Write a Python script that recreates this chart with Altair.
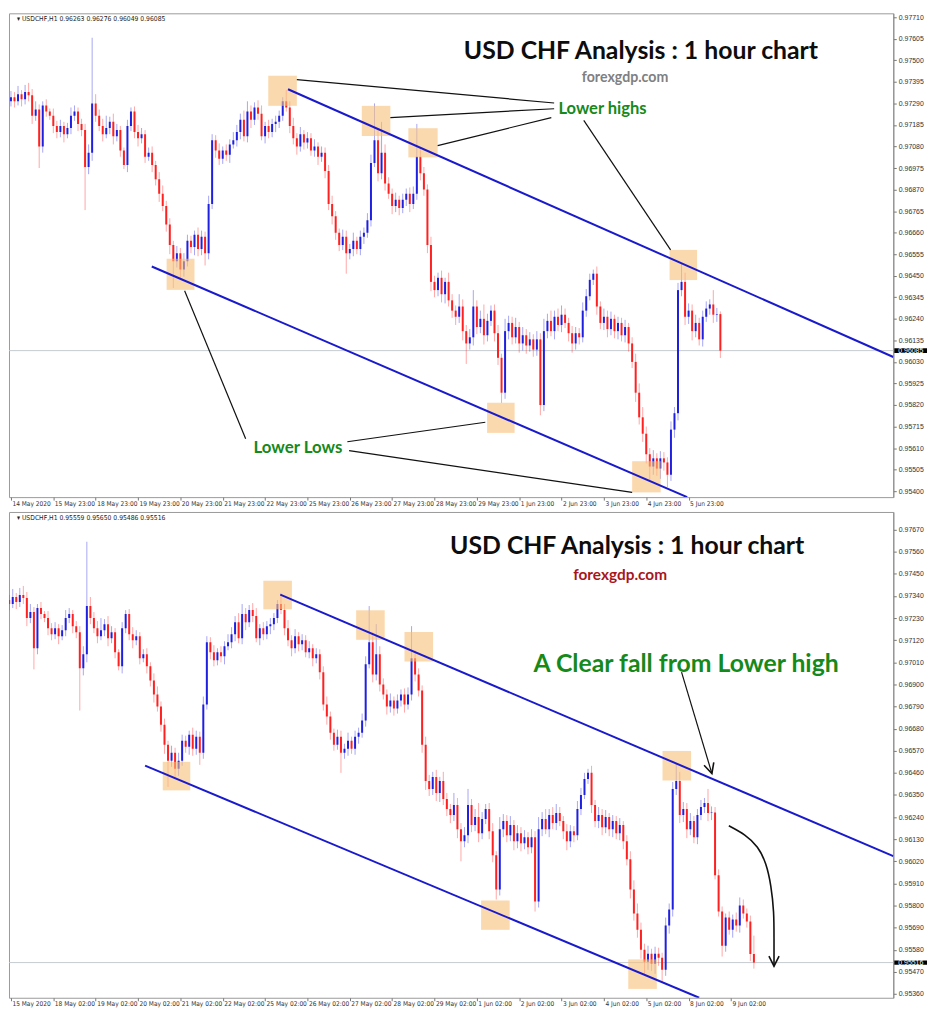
import altair as alt
import pandas as pd

# ---------------- data (prices in points: 1 point = 0.00001) ----------------
first_open = 97300
closes = [
    97320, 97300, 97335, 97310, 97345, 97330, 97230, 97260, 97080, 97280, 97250, 97230, 97180, 97150, 97180, 97140, 97170, 97230, 97250, 97190,
    97160, 96980, 97050, 97290, 97230, 97180, 97140, 97170, 97200, 97130, 97160, 97060, 96990, 97180, 97250, 97150, 97120, 97140, 97030, 97050,
    96990, 96920, 96850, 96790, 96700, 96600, 96520, 96560, 96480, 96520, 96620, 96590, 96650, 96580, 96640, 96560, 96800, 97110, 97060, 97020,
    97060, 97040, 97090, 97110, 97150, 97210, 97130, 97250, 97210, 97270, 97240, 97130, 97180, 97150, 97190, 97200, 97230, 97300, 97270, 97180,
    97120, 97080, 97140, 97100, 97120, 97060, 97080, 97030, 97050, 96960, 96800, 96740, 96660, 96600, 96640, 96560, 96580, 96620, 96580, 96640,
    96660, 96720, 97000, 97110, 96950, 97050, 96900, 96850, 96790, 96820, 96780, 96820, 96850, 96800, 96850, 97030, 96950, 96870, 96600, 96420,
    96380, 96440, 96360, 96420, 96330, 96280, 96250, 96300, 96180, 96120, 96150, 96300, 96200, 96240, 96160, 96230, 96280, 96170, 96050, 95880,
    96180, 96220, 96150, 96200, 96120, 96160, 96110, 96140, 96090, 96140, 95820, 96180, 96230, 96180, 96250, 96210, 96260, 96220, 96170, 96120,
    96170, 96150, 96280, 96350, 96430, 96460, 96300, 96220, 96250, 96190, 96240, 96180, 96220, 96160, 96200, 96120, 96030, 95880, 95760, 95680,
    95580, 95520, 95560, 95510, 95560, 95540, 95480, 95700, 95780, 96380, 96420, 96250, 96280, 96180, 96220, 96140, 96250, 96290, 96310, 96260, 96263,
]
wick_up = [
    30, 25, 40, 20, 35, 45, 30, 40, 25, 20, 30, 15, 35, 25, 30, 20, 25, 40, 30, 20,
    25, 30, 40, 320, 45, 30, 35, 60, 25, 40, 30, 20, 15, 30, 20, 25, 35, 30, 20, 25,
    30, 20, 35, 40, 25, 30, 20, 35, 25, 40, 30, 25, 20, 35, 30, 25, 40, 30, 25, 35,
    20, 30, 25, 40, 35, 30, 45, 50, 30, 25, 35, 40, 20, 30, 25, 30, 25, 20, 55, 30,
    40, 25, 35, 20, 30, 25, 35, 20, 30, 25, 30, 40, 25, 20, 35, 30, 25, 40, 20, 30,
    25, 35, 40, 180, 50, 150, 40, 30, 25, 35, 20, 30, 25, 30, 35, 160, 40, 30, 25, 40,
    30, 25, 35, 20, 45, 30, 25, 60, 35, 30, 40, 80, 30, 40, 70, 35, 25, 30, 40, 20,
    60, 35, 30, 45, 25, 40, 30, 35, 25, 40, 30, 60, 35, 50, 30, 40, 45, 30, 25, 35,
    30, 25, 40, 35, 30, 20, 35, 25, 40, 30, 35, 20, 30, 25, 35, 20, 30, 40, 45, 50,
    35, 30, 40, 25, 35, 30, 25, 40, 30, 35, 90, 45, 35, 30, 40, 25, 30, 35, 25, 70, 30,
]
wick_dn = [
    25, 30, 20, 35, 25, 30, 40, 25, 105, 30, 25, 20, 35, 30, 25, 40, 20, 30, 25, 35,
    30, 210, 35, 40, 30, 25, 35, 20, 30, 40, 25, 30, 20, 35, 25, 30, 40, 25, 30, 20,
    35, 30, 40, 25, 35, 45, 130, 30, 40, 35, 25, 30, 40, 35, 30, 60, 30, 25, 35, 30,
    25, 30, 40, 20, 30, 35, 25, 30, 40, 25, 30, 20, 35, 30, 25, 40, 30, 25, 20, 35,
    30, 40, 25, 35, 30, 25, 30, 40, 25, 35, 30, 40, 35, 30, 25, 100, 30, 35, 25, 30,
    35, 25, 30, 20, 40, 30, 35, 25, 40, 30, 35, 25, 30, 40, 25, 30, 35, 30, 40, 45,
    35, 30, 40, 45, 30, 35, 40, 30, 45, 100, 30, 40, 35, 30, 45, 30, 25, 40, 35, 50,
    30, 40, 35, 30, 45, 35, 40, 30, 35, 30, 50, 30, 35, 25, 40, 30, 35, 25, 40, 45,
    30, 35, 25, 30, 20, 25, 40, 30, 35, 40, 30, 35, 40, 30, 35, 40, 30, 45, 35, 40,
    45, 70, 40, 35, 50, 40, 60, 30, 40, 35, 30, 40, 35, 45, 30, 30, 35, 25, 30, 40, 35,
]
# last (partial) bar of the upper snapshot
top_tail_close = [96085]
top_tail_wu = [13]
top_tail_wd = [36]
# bars that follow in the lower snapshot
bot_tail_close = [95950, 95770, 95600, 95740, 95680, 95730, 95700, 95800, 95760, 95720, 95559, 95516]
bot_tail_wu = [27, 30, 25, 20, 30, 25, 35, 40, 30, 25, 30, 91]
bot_tail_wd = [20, 25, 54, 30, 25, 40, 30, 35, 25, 30, 35, 30]

top_last = 0.96085
bot_last = 0.95516

top_yticks = [0.97710, 0.97605, 0.97500, 0.97395, 0.97290, 0.97185, 0.97080, 0.96975, 0.96870, 0.96765,
              0.96660, 0.96555, 0.96450, 0.96345, 0.96240, 0.96135, 0.96030, 0.95925, 0.95820, 0.95715,
              0.95610, 0.95505, 0.95400]
bot_yticks = [0.97670, 0.97560, 0.97450, 0.97340, 0.97230, 0.97120, 0.97010, 0.96900, 0.96790, 0.96680,
              0.96570, 0.96460, 0.96350, 0.96240, 0.96130, 0.96020, 0.95910, 0.95800, 0.95690, 0.95580,
              0.95470, 0.95360]
top_xlabels = ["14 May 2020", "15 May 23:00", "18 May 23:00", "19 May 23:00", "20 May 23:00", "21 May 23:00",
               "22 May 23:00", "25 May 23:00", "26 May 23:00", "27 May 23:00", "28 May 23:00", "29 May 23:00",
               "1 Jun 23:00", "2 Jun 23:00", "3 Jun 23:00", "4 Jun 23:00", "5 Jun 23:00"]
top_xpos = [0, 12, 24, 36, 48, 60, 72, 84, 96, 108, 120, 132, 144, 156, 168, 180, 192]
bot_xlabels = ["15 May 2020", "18 May 02:00", "19 May 02:00", "20 May 02:00", "21 May 02:00", "22 May 02:00",
               "25 May 02:00", "26 May 02:00", "27 May 02:00", "28 May 02:00", "29 May 02:00", "1 Jun 02:00",
               "2 Jun 02:00", "3 Jun 02:00", "4 Jun 02:00", "5 Jun 02:00", "8 Jun 02:00", "9 Jun 02:00"]
bot_xpos = [1.5, 13.5, 25.5, 37.5, 49.5, 61.5, 73.5, 85.5, 97.5, 109.5, 121.5, 133.5, 145.5, 157.5, 169.5,
            181.5, 193.5, 205.5]

top_info = "\u25BE  USDCHF,H1  0.96263 0.96276 0.96049 0.96085"
bot_info = "\u25BE  USDCHF,H1  0.95559 0.95650 0.95486 0.95516"

# annotations (bar index, price)
top_boxes = [(72.9, 81.0, 0.97425, 0.97278), (99.4, 107.5, 0.97278, 0.97131), (112.6, 120.9, 0.97169, 0.97027),
             (186.6, 194.4, 0.96576, 0.96429), (44.1, 52.0, 0.96533, 0.96381), (134.9, 142.7, 0.95831, 0.95684),
             (176.0, 184.1, 0.95546, 0.95394)]
bot_boxes = [(73.0, 81.1, 0.97416, 0.97274), (99.3, 107.4, 0.97269, 0.97122), (113.0, 121.1, 0.97161, 0.97014),
             (186.1, 194.2, 0.96569, 0.96422), (44.5, 52.3, 0.96515, 0.96373), (134.7, 142.8, 0.95825, 0.95679),
             (176.4, 184.5, 0.95532, 0.95385)]
top_trend = [(78.5, 0.97359, 250.0, 0.96054), (39.9, 0.96495, 191.6, 0.95371)]
bot_trend = [(77.8, 0.97347, 251.5, 0.96046), (39.5, 0.96496, 196.5, 0.95341)]
top_pointers = [(81.0, 0.97406, 153.9, 0.97292), (107.5, 0.97221, 153.9, 0.97264), (120.9, 0.97084, 153.1, 0.97221),
                (162.3, 0.97207, 186.9, 0.96576), (49.2, 0.96377, 66.5, 0.95655), (95.3, 0.95641, 134.4, 0.95736),
                (95.8, 0.95598, 176.0, 0.95394)]
bot_pointers = [(191.5, 0.96961, 200.1, 0.96457)]
curve_k = [204.9, 209.6, 213.2, 215.5, 216.9, 217.7, 217.7, 217.7]
curve_p = [0.96197, 0.96153, 0.96094, 0.96011, 0.95899, 0.95767, 0.95639, 0.95498]
bot_heads = [(200.1, 0.96457, 343), (217.7, 0.95498, 0)]

top_texts = [("USD CHF Analysis : 1 hour chart", 178.5, 0.97506, 25, "#0d0d0d"),
             ("forexgdp.com", 174.0, 0.97392, 14.3, "#808080"),
             ("Lower highs", 167.6, 0.97240, 16.7, "#16891b"),
             ("Lower Lows", 81.3, 0.95584, 17, "#16891b")]
bot_texts = [("USD CHF Analysis : 1 hour chart", 176.1, 0.97548, 25, "#0d0d0d"),
             ("forexgdp.com", 174.1, 0.97420, 15.5, "#a8161c"),
             ("A Clear fall from Lower high", 192.8, 0.96961, 25, "#16891b")]

W = 892
H_TOP = 488
H_BOT = 490
BLUE = "#1f1fe0"
RED = "#ff2020"
AXFONT = "Liberation Sans Narrow, DejaVu Sans Condensed, Liberation Sans"


def candles(cl, wu, wd, o0, kmin):
    rows = []
    prev = o0
    for k, (c, u, d) in enumerate(zip(cl, wu, wd)):
        o = prev
        hi = max(o, c) + u
        lo = min(o, c) - d
        if k >= kmin:
            rows.append(dict(k=k, o=o / 1e5, c=c / 1e5, h=hi / 1e5, l=lo / 1e5,
                             d="up" if c >= o else "dn"))
        prev = c
    return pd.DataFrame(rows)


def panel(df, xdom, ydom, yticks, xpos, xlabels, H, last, boxes, trend, pointers, texts, info, info_pos,
          curve=None, heads=None):
    xs = alt.Scale(domain=xdom, nice=False, zero=False)
    ys = alt.Scale(domain=ydom, nice=False, zero=False)
    expr = ("[" + ",".join("'%s'" % s for s in xlabels) + "][indexof([" +
            ",".join(str(p) for p in xpos) + "], datum.value)]")
    xax = alt.Axis(values=xpos, labelExpr=expr, orient="bottom", title=None, grid=False, domain=False,
                   ticks=True, tickSize=3, tickColor="#777777", labelAlign="left", labelBaseline="top",
                   labelPadding=0, labelFontSize=6.6, labelFont=AXFONT, labelColor="#333333",
                   labelOffset=1, labelOverlap=False, labelFlush=False, labelBound=False)
    yax = alt.Axis(values=yticks, format=".5f", orient="right", title=None, grid=False, domain=True,
                   domainColor="#8a8a8a", tickSize=3, tickColor="#777777", labelPadding=2,
                   labelFontSize=7, labelFont="Liberation Sans", labelColor="#333333",
                   labelOverlap=False, labelFlush=False, labelBound=False)

    def X(f):
        return alt.X(f, type="quantitative", scale=xs, axis=xax)

    def Y(f):
        return alt.Y(f, type="quantitative", scale=ys, axis=yax)

    layers = []
    layers.append(alt.Chart(pd.DataFrame({"p": [last]})).mark_rule(color="#c5cad0", strokeWidth=1)
                  .encode(y=Y("p")))
    up = df[df.d == "up"]
    dn = df[df.d == "dn"]
    for part, col in ((up, BLUE), (dn, RED)):
        layers.append(alt.Chart(part).mark_rule(color=col, strokeWidth=1, opacity=0.4, clip=True)
                      .encode(x=X("k"), y=Y("l"), y2="h"))
    for part, col in ((up, BLUE), (dn, RED)):
        layers.append(alt.Chart(part).mark_rule(color=col, strokeWidth=2, clip=True)
                      .encode(x=X("k"), y=Y("o"), y2="c"))
    bdf = pd.DataFrame(boxes, columns=["x0", "x1", "y0", "y1"])
    layers.append(alt.Chart(bdf).mark_rect(color="#f9c07a", opacity=0.6)
                  .encode(x=X("x0"), x2="x1", y=Y("y0"), y2="y1"))
    tdf = pd.DataFrame(trend, columns=["x0", "y0", "x1", "y1"])
    layers.append(alt.Chart(tdf).mark_rule(color="#1a1acd", strokeWidth=2, clip=True)
                  .encode(x=X("x0"), x2="x1", y=Y("y0"), y2="y1"))
    pdf = pd.DataFrame(pointers, columns=["x0", "y0", "x1", "y1"])
    layers.append(alt.Chart(pdf).mark_rule(color="#111111", strokeWidth=1.2)
                  .encode(x=X("x0"), x2="x1", y=Y("y0"), y2="y1"))
    if curve is not None:
        cdf = pd.DataFrame({"k": curve[0], "p": curve[1], "i": list(range(len(curve[0])))})
        layers.append(alt.Chart(cdf).mark_line(color="#111111", strokeWidth=1.6, interpolate="basis")
                      .encode(x=X("k"), y=Y("p"), order="i:Q"))
    if heads is not None:
        hdf = pd.DataFrame(heads, columns=["k", "p", "a"])
        layers.append(alt.Chart(hdf).mark_point(shape="M -0.5 -1 L 0 0 L 0.5 -1", filled=False,
                                                stroke="#111111", strokeWidth=1.6, size=420, opacity=1)
                      .encode(x=X("k"), y=Y("p"), angle=alt.Angle("a:Q", scale=None)))
    for (t, k, p, fs, col) in texts:
        layers.append(alt.Chart(pd.DataFrame({"t": [t], "k": [k], "p": [p]}))
                      .mark_text(font="Lato", fontWeight="bold", fontSize=fs, color=col, align="center",
                                 baseline="alphabetic")
                      .encode(x=X("k"), y=Y("p"), text="t:N"))
    layers.append(alt.Chart(pd.DataFrame({"t": [info], "k": [info_pos[0]], "p": [info_pos[1]]}))
                  .mark_text(font=AXFONT, fontSize=6.8, color="#222222", align="left",
                             baseline="middle")
                  .encode(x=X("k"), y=Y("p"), text="t:N"))
    lab = pd.DataFrame({"p": [last], "lo": [last - 0.00011], "hi": [last + 0.00011], "t": ["%.5f" % last]})
    layers.append(alt.Chart(lab).mark_rect(color="#000000")
                  .encode(x=alt.value(W + 1), x2=alt.value(W + 34), y=Y("lo"), y2="hi"))
    layers.append(alt.Chart(lab).mark_text(color="#ffffff", fontSize=7, font="Liberation Sans",
                                           align="left", baseline="middle")
                  .encode(x=alt.value(W + 5), y=Y("p"), text="t:N"))
    return alt.layer(*layers).properties(width=W, height=H)


top_df = candles(closes + top_tail_close, wick_up + top_tail_wu, wick_dn + top_tail_wd, first_open, 0)
bot_df = candles(closes + bot_tail_close, wick_up + bot_tail_wu, wick_dn + bot_tail_wd, first_open, 1)

top = panel(top_df, [-0.56, 250.0], [0.95371, 0.97729], top_yticks, top_xpos, top_xlabels, H_TOP, top_last,
            top_boxes, top_trend, top_pointers, top_texts, top_info, (1.7, 0.97700))
bot = panel(bot_df, [0.94, 251.5], [0.95341, 0.97758], bot_yticks, bot_xpos, bot_xlabels, H_BOT, bot_last,
            bot_boxes, bot_trend, bot_pointers, bot_texts, bot_info, (3.2, 0.97729),
            curve=(curve_k, curve_p), heads=bot_heads)

chart = (alt.vconcat(top, bot, spacing=3)
         .properties(padding=0, background="white")
         .configure_view(stroke="#9a9a9a", strokeWidth=1))

chart.save("out.html", embed_options={"renderer": "svg", "actions": False})
